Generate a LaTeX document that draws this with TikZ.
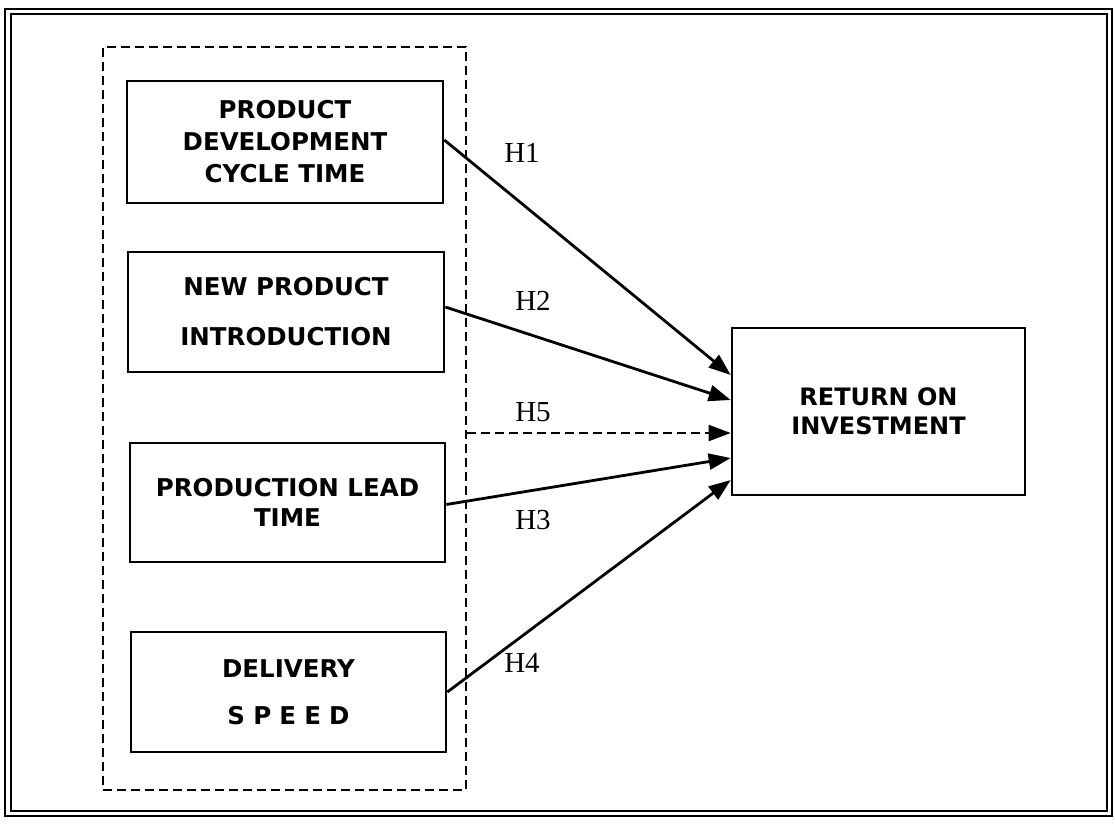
\documentclass[tikz,border=0pt]{standalone}
\usepackage{fontspec}
\setmainfont{Liberation Serif}
\newfontfamily\boxfont{DejaVu Sans}
\usetikzlibrary{arrows.meta,calc}
\begin{document}
\begin{tikzpicture}[x=1pt,y=-1pt,
  varbox/.style={draw,line width=2.6pt,rectangle,align=center,inner sep=0pt,
     font=\boxfont\bfseries\fontsize{24.5}{32}\selectfont},
  grpbox/.style={draw,dashed,dash pattern=on 9pt off 5pt,line width=2pt,rectangle,inner sep=0pt},
  link/.style={line width=2.8pt,-{Triangle[length=22pt,width=16pt]}},
  hlabel/.style={font=\fontsize{29}{29}\selectfont,inner sep=0pt}]
\useasboundingbox (0,0) rectangle (1115,823);
% outer double frame
\draw[line width=2pt] (5,9) rectangle (1112,816);
\draw[line width=2pt] (11,14) rectangle (1107,811);
% dashed group
\node[grpbox,minimum width=363pt,minimum height=743pt] (grp) at (284.5,418.5) {};
% boxes
\node[varbox,minimum width=316pt,minimum height=122pt] (b1) at (285,142) {PRODUCT\\DEVELOPMENT\\CYCLE TIME};
\node[varbox,minimum width=316pt,minimum height=120pt] (b2) at (286,312) {NEW PRODUCT\\[18pt]INTRODUCTION};
\node[varbox,minimum width=315pt,minimum height=119pt] (b3) at (287.5,502.5) {PRODUCTION LEAD\\[-2pt]TIME};
\node[varbox,minimum width=315pt,minimum height=120pt] (b4) at (288.5,692) {DELIVERY\\[15pt]S\,\,P\,\,E\,\,E\,\,D};
\node[varbox,minimum width=293pt,minimum height=167pt,font=\boxfont\bfseries\fontsize{24}{29}\selectfont] (roi) at (878.5,411.5) {RETURN ON\\INVESTMENT};
% arrow targets
\coordinate (t1) at ([yshift=36.5pt]roi.west);
\coordinate (t2) at ([yshift=11.5pt]roi.west);
\coordinate (t5) at ([yshift=-21.5pt]roi.west);
\coordinate (t3) at ([yshift=-46.5pt]roi.west);
\coordinate (t4) at ([yshift=-68.5pt]roi.west);
\coordinate (s5) at (grp.east |- t5);
% arrows
\draw[link] ([yshift=2pt]b1.east) -- (t1);
\draw[link] ([yshift=5pt]b2.east) -- (t2);
\draw[link,dashed,dash pattern=on 9pt off 5pt,line width=2pt] (s5) -- (t5);
\draw[link] ([yshift=-2pt]b3.east) -- (t3);
\draw[link] (b4.east) -- (t4);
% labels
\node[hlabel] (h1) at (522,153) {H1};
\node[hlabel] (h2) at (533,301) {H2};
\node[hlabel] (h5) at (533,412) {H5};
\node[hlabel] (h3) at (533,520) {H3};
\node[hlabel] (h4) at (522,663) {H4};
\end{tikzpicture}
\end{document}
